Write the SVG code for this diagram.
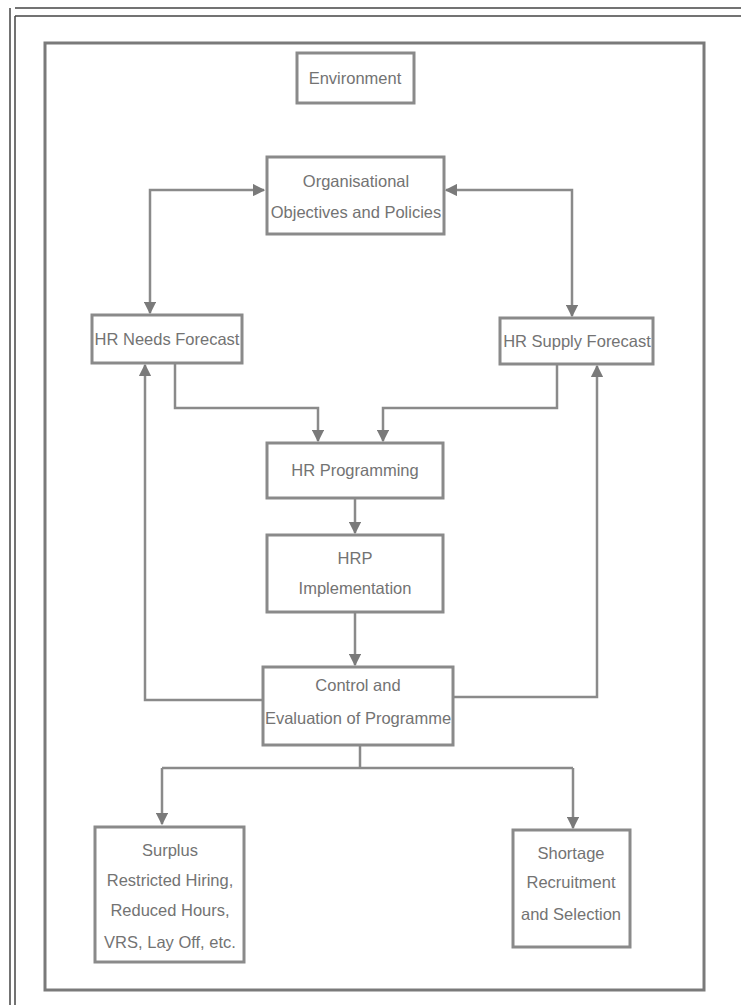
<svg xmlns="http://www.w3.org/2000/svg" width="741" height="1005" viewBox="0 0 741 1005">
<defs>
<marker id="ah" viewBox="0 0 10 10" refX="9" refY="5" markerWidth="5" markerHeight="5" orient="auto-start-reverse">
<path d="M0,0 L10,5 L0,10 z" fill="#7a7a7a"/>
</marker>
<style>
.box{fill:#ffffff;stroke:#8a8a8a;stroke-width:3}
.t{font-family:"Liberation Sans",Arial,sans-serif;font-size:16.5px;fill:#737373;text-anchor:middle}
.c{fill:none;stroke:#8a8a8a;stroke-width:2.5}
.pg{stroke:#444;stroke-width:1.5;fill:none}
</style>
</defs>
<rect width="741" height="1005" fill="#ffffff"/>
<g id="page-frame">
<line class="pg" x1="15" y1="8" x2="741" y2="8"/>
<line class="pg" x1="15" y1="16" x2="741" y2="16"/>
<line class="pg" x1="10" y1="8" x2="10" y2="1005"/>
<line class="pg" x1="15" y1="16" x2="15" y2="1005"/>
<rect x="45" y="43" width="659" height="947" fill="none" stroke="#7a7a7a" stroke-width="3"/>
</g>
<g id="connectors">
<polyline class="c" points="264,190 150,190 150,313" marker-start="url(#ah)" marker-end="url(#ah)"/>
<polyline class="c" points="446,190 572,190 572,316" marker-start="url(#ah)" marker-end="url(#ah)"/>
<polyline class="c" points="175,363 175,408 318,408 318,441" marker-end="url(#ah)"/>
<polyline class="c" points="557,364 557,408 383,408 383,441" marker-end="url(#ah)"/>
<line class="c" x1="355" y1="499" x2="355" y2="533" marker-end="url(#ah)"/>
<line class="c" x1="355" y1="613" x2="355" y2="665" marker-end="url(#ah)"/>
<polyline class="c" points="262,700 145,700 145,365" marker-end="url(#ah)"/>
<polyline class="c" points="454,697 597,697 597,366" marker-end="url(#ah)"/>
<polyline class="c" points="360,746 360,768"/>
<polyline class="c" points="162,768 573,768"/>
<line class="c" x1="162" y1="768" x2="162" y2="824" marker-end="url(#ah)"/>
<line class="c" x1="573" y1="768" x2="573" y2="828" marker-end="url(#ah)"/>
</g>
<g id="environment">
<rect class="box" x="297" y="53" width="117" height="50"/>
<text class="t" x="355" y="84">Environment</text>
</g>
<g id="objectives">
<rect class="box" x="267" y="157" width="177" height="77"/>
<text class="t" x="356" y="187">Organisational</text>
<text class="t" x="356" y="218">Objectives and Policies</text>
</g>
<g id="needs-forecast">
<rect class="box" x="92" y="315" width="150" height="48"/>
<text class="t" x="167" y="345">HR Needs Forecast</text>
</g>
<g id="supply-forecast">
<rect class="box" x="500" y="318" width="153" height="46"/>
<text class="t" x="577" y="347">HR Supply Forecast</text>
</g>
<g id="programming">
<rect class="box" x="267" y="443" width="176" height="55"/>
<text class="t" x="355" y="476">HR Programming</text>
</g>
<g id="implementation">
<rect class="box" x="267" y="535" width="176" height="77"/>
<text class="t" x="355" y="564">HRP</text>
<text class="t" x="355" y="594">Implementation</text>
</g>
<g id="control">
<rect class="box" x="263" y="667" width="190" height="78"/>
<text class="t" x="358" y="691">Control and</text>
<text class="t" x="358" y="724">Evaluation of Programme</text>
</g>
<g id="surplus">
<rect class="box" x="95" y="827" width="149" height="135"/>
<text class="t" x="170" y="856">Surplus</text>
<text class="t" x="170" y="886">Restricted Hiring,</text>
<text class="t" x="170" y="916">Reduced Hours,</text>
<text class="t" x="170" y="948">VRS, Lay Off, etc.</text>
</g>
<g id="shortage">
<rect class="box" x="513" y="830" width="117" height="117"/>
<text class="t" x="571" y="859">Shortage</text>
<text class="t" x="571" y="888">Recruitment</text>
<text class="t" x="571" y="920">and Selection</text>
</g>
</svg>
